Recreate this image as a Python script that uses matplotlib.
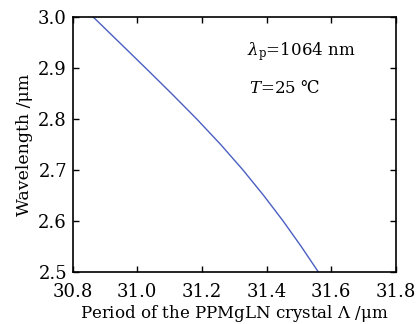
import matplotlib
matplotlib.use("Agg")
import matplotlib.pyplot as plt

plt.rcParams['font.family'] = ['DejaVu Serif', 'DejaVu Sans']
plt.rcParams['mathtext.fontset'] = 'dejavuserif'

wavelength = [3.00, 2.95, 2.90, 2.85, 2.80, 2.75, 2.70, 2.65, 2.60, 2.55, 2.50]
period = [30.864, 30.945, 31.026, 31.106, 31.184, 31.258, 31.327, 31.391, 31.451, 31.507, 31.560]
xticks = [30.8, 31.0, 31.2, 31.4, 31.6, 31.8]
yticks = [2.5, 2.6, 2.7, 2.8, 2.9, 3.0]

fig = plt.figure(figsize=(4.19, 3.24), dpi=100)
ax = fig.add_axes([72.5/419, 1-272/324, (396-72.5)/419, (272-17)/324])
ax.plot(period, wavelength, color='#4a5fc1', lw=1.0)
ax.set_xlim(30.8, 31.8)
ax.set_ylim(2.5, 3.0)
ax.set_xticks(xticks)
ax.set_xticklabels([f"{v:.1f}" for v in xticks])
ax.set_yticks(yticks)
ax.set_yticklabels([f"{v:.1f}" for v in yticks])
ax.tick_params(direction='in', length=4, width=1, top=True, right=True, labelsize=13)
ax.tick_params(axis='x', pad=8)
ax.tick_params(axis='y', pad=4)
for s in ax.spines.values():
    s.set_linewidth(1.2)
ax.set_xlabel("Period of the PPMgLN crystal $\\Lambda$ /μm", fontsize=12, labelpad=1)
ax.set_ylabel("Wavelength /μm", fontsize=12.5, labelpad=4)
ax.text(0.54, 0.85, "$\\lambda_{\\rm p}$=1064 nm", transform=ax.transAxes, fontsize=12)
ax.text(0.545, 0.70, "$T$=25 ℃", transform=ax.transAxes, fontsize=12)
fig.savefig("out.png", dpi=100)
